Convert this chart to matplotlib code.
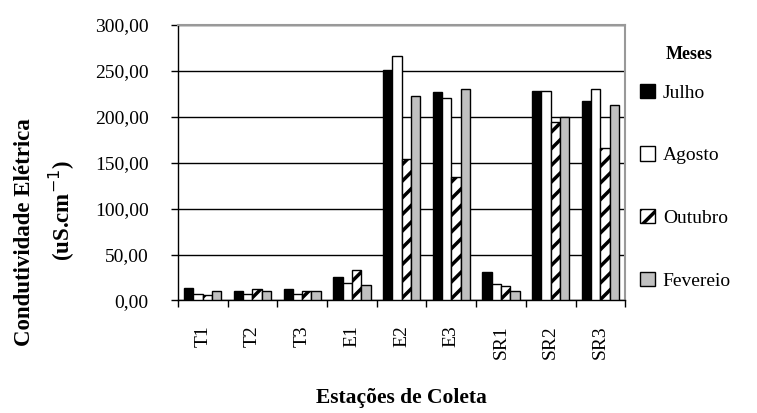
import numpy as np
import matplotlib as mpl
from matplotlib import pyplot as plt
from matplotlib.patches import Patch

# estacoes de coleta e valores por mes
estacoes = ["T1", "T2", "T3", "E1", "E2", "E3", "SR1", "SR2", "SR3"]
meses = ["Julho", "Agosto", "Outubro", "Fevereio"]
julho = [13.3, 10.7, 12.9, 26.0, 251.0, 226.7, 31.4, 228.0, 217.0]
agosto = [6.7, 6.7, 6.7, 18.7, 266.6, 221.0, 18.0, 228.0, 230.0]
outubro = [6.0, 12.5, 10.7, 33.0, 154.0, 134.8, 15.8, 194.7, 166.4]
fevereiro = [10.7, 10.7, 10.7, 16.5, 223.0, 230.4, 10.7, 199.5, 213.0]
yticks = [0, 50, 100, 150, 200, 250, 300]

plt.rcParams['font.family'] = ['Liberation Serif', 'DejaVu Serif']
plt.rcParams['hatch.linewidth'] = 2.5


def main():
	fig = plt.figure(figsize = (7.57, 4.13), dpi = 100)
	ax = fig.add_axes([0.235, 0.2724, 0.591, 0.667])

	series = [julho, agosto, outubro, fevereiro]
	colors = ["black", "white", "white", "#c0c0c0"]
	hatches = [None, None, "//", None]
	width = 0.1875
	x = np.arange(len(estacoes))
	for i in range(len(series)):
		offset = (i - 1.5) * width
		ax.bar(x + offset, series[i], width, color = colors[i], edgecolor = "black",
			linewidth = 1, hatch = hatches[i], zorder = 3)

	ax.set_xlim(-0.5, len(estacoes) - 0.5)
	ax.set_ylim(0, 300)
	ax.set_yticks(yticks)
	ax.set_yticklabels([("%.2f" % v).replace(".", ",") for v in yticks], fontsize = 14)
	ax.yaxis.grid(True, color = "black", linewidth = 1)
	ax.set_axisbelow(True)

	ax.set_xticks(x)
	ax.set_xticklabels(estacoes, rotation = 90, fontsize = 14)
	ax.set_xticks(np.arange(len(estacoes) + 1) - 0.5, minor = True)
	ax.tick_params(axis = "x", which = "major", length = 0, pad = 18)
	ax.tick_params(axis = "x", which = "minor", length = 5, width = 1)
	ax.tick_params(axis = "y", length = 5, width = 1, pad = 16)

	for s in ["top", "right"]:
		ax.spines[s].set_color("#999999")
		ax.spines[s].set_linewidth(1.5)
	for s in ["left", "bottom"]:
		ax.spines[s].set_color("black")
		ax.spines[s].set_linewidth(1)

	fig.text(0.033, 0.438, "Condutividade Elétrica", rotation = 90, fontsize = 16.5,
		fontweight = "bold", ha = "center", va = "center")
	fig.text(0.082, 0.49, "(uS.cm$^{-1}$)", rotation = 90, fontsize = 16.5,
		fontweight = "bold", ha = "center", va = "center")
	fig.text(0.53, 0.036, "Estações de Coleta", fontsize = 15.5, fontweight = "bold",
		ha = "center", va = "center")

	# legenda
	fig.text(0.91, 0.868, "Meses", fontsize = 13, fontweight = "bold", ha = "center", va = "center")
	handles = []
	for i in range(len(meses)):
		handles.append(Patch(facecolor = colors[i], edgecolor = "black", hatch = hatches[i], label = meses[i]))
	leg = fig.legend(handles = handles, loc = "upper left",
		bbox_to_anchor = (0.846, 0.797), frameon = False, fontsize = 14,
		labelspacing = 2.3, handlelength = 0.75, handleheight = 0.75, handletextpad = 0.4,
		borderaxespad = 0, borderpad = 0)

	plt.savefig("out.png", dpi = 100)


if __name__ == '__main__':
	main()
